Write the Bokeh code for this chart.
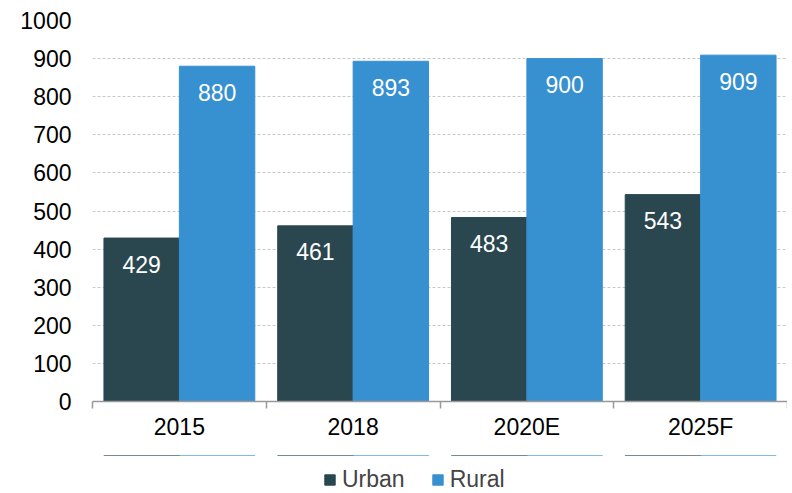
from bokeh.plotting import figure
from bokeh.models import ColumnDataSource, FixedTicker, Legend, LegendItem, Range1d
from bokeh.layouts import column
from bokeh.core.properties import value
from bokeh.embed import file_html
from bokeh.resources import INLINE

categories = ["2015", "2018", "2020E", "2025F"]
urban = [429, 461, 483, 543]
rural = [880, 893, 900, 909]
series_names = ["Urban", "Rural"]
colors = ["#2a4750", "#3790d0"]

FONT = "Liberation Sans"
FS = "23px"
idx = list(range(len(categories)))
centers = [i + 0.5 for i in idx]
off = 0.217
bw = 0.434

src_u = ColumnDataSource(dict(x=[c - off for c in centers], top=urban, lbl=[str(v) for v in urban]))
src_r = ColumnDataSource(dict(x=[c + off for c in centers], top=rural, lbl=[str(v) for v in rural]))

p = figure(width=787, height=455, output_backend="svg", toolbar_location=None,
           x_range=Range1d(0, len(categories)), y_range=Range1d(0, 1000),
           min_border_left=92, min_border_right=0, min_border_top=20, min_border_bottom=54)
p.outline_line_color = None

p.vbar(x="x", top="top", width=bw, source=src_u, fill_color=colors[0], line_color=colors[0])
p.vbar(x="x", top="top", width=bw, source=src_r, fill_color=colors[1], line_color=colors[1])

for src in (src_u, src_r):
    p.text(x="x", y="top", text="lbl", source=src, text_color="white",
           text_font=value(FONT), text_font_size=FS, text_align="center",
           text_baseline="middle", y_offset=26)

# y axis
p.yaxis.ticker = FixedTicker(ticks=list(range(0, 1001, 100)))
p.yaxis.axis_line_color = None
p.yaxis.major_tick_line_color = None
p.yaxis.minor_tick_line_color = None
p.yaxis.major_tick_out = 0
p.yaxis.major_label_standoff = 21
p.yaxis.major_label_text_font = FONT
p.yaxis.major_label_text_font_size = FS
p.yaxis.major_label_text_color = "black"

# x axis
p.xaxis.ticker = FixedTicker(ticks=centers, minor_ticks=[float(i) for i in range(len(categories) + 1)])
p.xaxis.major_label_overrides = {c: cat for c, cat in zip(centers, categories)}
p.xaxis.major_tick_line_color = None
p.xaxis.major_tick_out = 0
p.xaxis.minor_tick_out = 7
p.xaxis.minor_tick_in = 0
p.xaxis.minor_tick_line_color = "#999999"
p.xaxis.minor_tick_line_width = 1.5
p.xaxis.axis_line_color = "#999999"
p.xaxis.axis_line_width = 1.5
p.xaxis.major_label_standoff = 5
p.xaxis.major_label_text_font = FONT
p.xaxis.major_label_text_font_size = FS
p.xaxis.major_label_text_color = "black"

p.xgrid.grid_line_color = None
p.ygrid.grid_line_color = "#c8c8c8"
p.ygrid.grid_line_dash = "3 2"
p.ygrid.grid_line_width = 1

# legend strip below the chart (its bars lie outside its view; only the legend shows)
lg = figure(width=787, height=38, output_backend="svg", toolbar_location=None,
            x_range=Range1d(0, len(categories)), y_range=Range1d(-2, -1),
            x_axis_type=None, y_axis_type=None,
            min_border_left=0, min_border_right=0, min_border_top=0, min_border_bottom=0)
lg.outline_line_color = None
lu = lg.vbar(x="x", top="top", width=bw, source=src_u, fill_color=colors[0], line_color=colors[0])
lr = lg.vbar(x="x", top="top", width=bw, source=src_r, fill_color=colors[1], line_color=colors[1])

legend = Legend(items=[LegendItem(label=series_names[0], renderers=[lu]),
                       LegendItem(label=series_names[1], renderers=[lr])],
                orientation="horizontal", location=(231, 0),
                glyph_width=13, glyph_height=13, label_standoff=6, spacing=26,
                label_text_font=FONT, label_text_font_size=FS,
                border_line_color=None, background_fill_alpha=0,
                padding=0, margin=0)
lg.add_layout(legend, "center")

layout = column(p, lg, spacing=0)
open("out.html", "w").write(file_html(layout, INLINE))
